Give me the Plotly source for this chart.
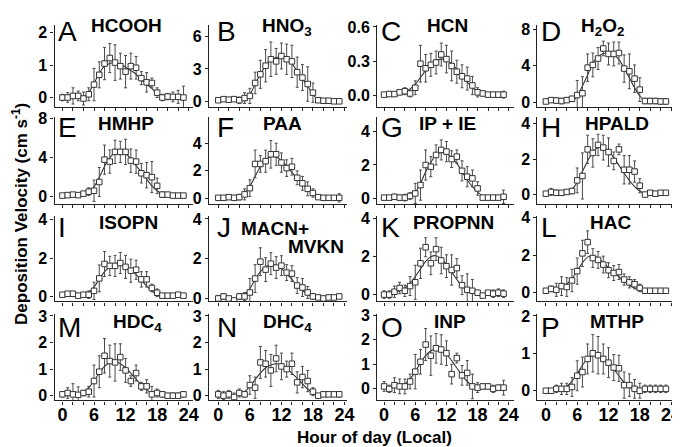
import plotly.graph_objects as go

hours = list(range(24))
x_tickvals = list(range(0, 25, 2))
x_ticktext = [str(v) if v % 6 == 0 else "" for v in x_tickvals]

panel_letters = ["A", "B", "C", "D", "E", "F", "G", "H", "I", "J", "K", "L", "M", "N", "O", "P"]
compound_names = ["HCOOH", "HNO<sub>3</sub>", "HCN", "H<sub>2</sub>O<sub>2</sub>", "HMHP", "PAA", "IP + IE", "HPALD",
                  "ISOPN", "MACN+", "PROPNN", "HAC", "HDC<sub>4</sub>", "DHC<sub>4</sub>", "INP", "MTHP"]

# y tick values per panel
A_yticks = [0, 1, 2]
B_yticks = [0, 3, 6]
C_yticks = [0.0, 0.3, 0.6]
D_yticks = [0, 4, 8]
E_yticks = [0, 4, 8]
F_yticks = [0, 2, 4]
G_yticks = [0, 2, 4]
H_yticks = [0, 2, 4]
I_yticks = [0, 2, 4]
J_yticks = [0, 2, 4]
K_yticks = [0, 2, 4]
L_yticks = [0, 2, 4]
M_yticks = [0, 1, 2, 3]
N_yticks = [0, 1, 2, 3]
O_yticks = [0, 1, 2, 3]
P_yticks = [0, 1, 2]

# ---- hourly means, error bars and fitted curve (fit listed from fit_from hour, 1 h steps)
A_mean = [0.0, 0.0, 0.05, 0.05, -0.03, 0.1, 0.4, 0.7, 1.05, 1.22, 1.08, 0.97, 0.8, 0.97, 0.92, 0.6, 0.47, 0.45, 0.15, 0.0, 0.03, 0.02, 0.02, 0.0]
A_err = [0.1, 0.15, 0.25, 0.15, 0.2, 0.2, 0.5, 0.4, 0.5, 0.45, 0.55, 0.4, 0.5, 0.4, 0.35, 0.2, 0.3, 0.15, 0.15, 0.1, 0.1, 0.15, 0.2, 0.35]
A_fit_from = 4
A_fit = [0.0, 0.15, 0.44, 0.74, 0.97, 1.05, 1.08, 1.03, 0.94, 0.83, 0.72, 0.55, 0.41, 0.28, 0.11, 0.02]

B_mean = [0.1, 0.2, 0.15, 0.2, 0.1, 0.3, 0.5, 1.7, 2.5, 3.3, 3.9, 3.7, 4.2, 3.9, 3.7, 2.7, 2.2, 1.6, 0.8, 0.1, 0.05, 0.05, 0.0, 0.0]
B_err = [0.1, 0.1, 0.1, 0.1, 0.3, 0.5, 0.7, 1.0, 1.3, 1.5, 1.6, 1.2, 1.2, 1.4, 1.5, 1.4, 1.2, 1.6, 0.9, 0.2, 0.1, 0.1, 0.05, 0.05]
B_fit_from = 5
B_fit = [0.0, 0.6, 1.6, 2.5, 3.3, 3.8, 4.05, 4.1, 3.95, 3.5, 2.8, 2.1, 1.4, 0.65, 0.05]

C_mean = [0.01, 0.015, 0.015, 0.03, 0.04, 0.02, 0.07, 0.28, 0.24, 0.27, 0.29, 0.36, 0.32, 0.26, 0.21, 0.17, 0.15, 0.09, 0.03, 0.02, 0.01, 0.01, 0.01, 0.01]
C_err = [0.01, 0.01, 0.01, 0.02, 0.03, 0.03, 0.06, 0.16, 0.12, 0.1, 0.1, 0.1, 0.12, 0.13, 0.1, 0.1, 0.1, 0.08, 0.04, 0.02, 0.01, 0.02, 0.02, 0.03]
C_fit_from = 2
C_fit = [0.01, 0.02, 0.03, 0.06, 0.1, 0.16, 0.22, 0.27, 0.31, 0.32, 0.31, 0.28, 0.23, 0.17, 0.12, 0.07, 0.04, 0.02, 0.01, 0.005]

D_mean = [0.1, 0.25, 0.2, 0.15, 0.25, 0.4, 0.8, 1.0, 3.8, 4.1, 4.8, 5.9, 5.3, 5.3, 5.4, 3.7, 3.4, 2.6, 1.4, 0.15, 0.15, 0.15, 0.1, 0.1]
D_err = [0.1, 0.25, 0.3, 0.3, 0.2, 0.25, 1.6, 1.8, 1.5, 1.3, 1.2, 0.8, 1.2, 1.3, 1.2, 1.5, 1.9, 1.5, 1.3, 0.3, 0.3, 0.3, 0.3, 0.3]
D_fit_from = 5
D_fit = [0.05, 0.7, 1.8, 3.0, 4.3, 5.0, 5.35, 5.4, 5.2, 4.7, 3.75, 2.7, 1.6, 0.7, 0.2, 0.02]

E_mean = [0.1, 0.15, 0.2, 0.15, 0.3, 0.5, 0.6, 1.5, 3.8, 3.6, 4.6, 4.6, 4.6, 3.7, 3.6, 2.4, 2.2, 2.0, 1.1, 0.2, 0.2, 0.1, 0.1, 0.1]
E_err = [0.1, 0.1, 0.15, 0.1, 0.2, 0.4, 1.1, 1.5, 1.5, 1.2, 1.2, 1.1, 1.3, 1.2, 1.2, 1.0, 1.3, 1.6, 0.8, 0.3, 0.2, 0.1, 0.1, 0.1]
E_fit_from = 4
E_fit = [0.05, 0.4, 1.0, 2.0, 3.1, 4.0, 4.5, 4.6, 4.4, 3.9, 3.2, 2.5, 1.8, 1.1, 0.6, 0.25, 0.05]

F_mean = [0.05, 0.05, 0.1, 0.05, 0.1, 0.3, 0.75, 2.5, 2.5, 2.7, 3.2, 3.2, 2.6, 2.2, 2.3, 1.5, 1.1, 0.7, 0.4, 0.1, 0.05, 0.05, 0.05, 0.05]
F_err = [0.05, 0.05, 0.1, 0.1, 0.2, 0.4, 0.6, 1.0, 0.6, 0.8, 1.0, 0.8, 0.7, 0.6, 0.6, 0.5, 0.5, 0.5, 0.3, 0.1, 0.05, 0.05, 0.05, 0.3]
F_fit_from = 3
F_fit = [0.05, 0.15, 0.4, 0.9, 1.6, 2.3, 2.8, 3.05, 3.0, 2.75, 2.35, 1.9, 1.45, 1.05, 0.7, 0.4, 0.2, 0.05]

G_mean = [0.05, 0.05, 0.1, 0.05, 0.05, 0.15, 0.3, 0.8, 2.0, 1.9, 2.6, 2.9, 2.8, 2.35, 2.5, 1.65, 1.3, 1.2, 0.6, 0.05, 0.05, 0.05, 0.05, 0.1]
G_err = [0.05, 0.05, 0.15, 0.15, 0.2, 0.2, 0.6, 0.9, 0.9, 0.6, 0.6, 0.6, 0.6, 0.5, 0.4, 0.6, 0.6, 0.5, 0.4, 0.05, 0.1, 0.05, 0.1, 0.4]
G_fit_from = 5
G_fit = [0.05, 0.35, 0.9, 1.6, 2.15, 2.6, 2.75, 2.7, 2.45, 2.1, 1.6, 1.1, 0.7, 0.38, 0.15, 0.03]

H_mean = [0.05, 0.15, 0.1, 0.1, 0.15, 0.2, 0.8, 1.05, 2.55, 2.35, 2.8, 2.65, 2.4, 1.9, 2.55, 1.4, 1.4, 1.3, 0.5, 0.0, 0.1, 0.05, 0.1, 0.1]
H_err = [0.05, 0.2, 0.15, 0.1, 0.1, 0.15, 0.7, 1.3, 0.8, 0.8, 0.6, 0.7, 0.8, 0.5, 0.3, 0.8, 0.8, 0.6, 0.4, 0.1, 0.1, 0.05, 0.1, 0.1]
H_fit_from = 4
H_fit = [0.1, 0.3, 0.7, 1.3, 1.9, 2.4, 2.65, 2.65, 2.45, 2.1, 1.65, 1.2, 0.8, 0.45, 0.2, 0.05]

I_mean = [0.1, 0.15, 0.15, 0.05, 0.1, 0.1, 0.3, 0.95, 1.7, 1.6, 1.6, 1.75, 1.55, 1.35, 1.4, 0.9, 0.9, 0.45, 0.2, 0.05, 0.05, 0.05, 0.1, 0.05]
I_err = [0.1, 0.1, 0.1, 0.1, 0.1, 0.2, 0.45, 0.7, 0.65, 0.5, 0.55, 0.55, 0.6, 0.6, 0.5, 0.4, 0.4, 0.2, 0.2, 0.1, 0.05, 0.1, 0.1, 0.1]
I_fit_from = 4
I_fit = [0.05, 0.2, 0.5, 0.9, 1.3, 1.55, 1.7, 1.7, 1.6, 1.4, 1.15, 0.85, 0.55, 0.3, 0.1, 0.02]

J_mean = [0.0, 0.1, 0.0, -0.1, 0.1, 0.1, 0.3, 1.0, 1.85, 1.45, 1.75, 1.55, 1.65, 1.3, 1.25, 0.65, 0.55, 0.3, 0.1, 0.05, 0.0, 0.05, 0.05, 0.1]
J_err = [0.15, 0.15, 0.1, 0.1, 0.15, 0.2, 0.7, 0.7, 0.7, 0.6, 0.55, 0.55, 0.5, 0.4, 0.4, 0.4, 0.45, 0.3, 0.15, 0.1, 0.05, 0.05, 0.1, 0.1]
J_fit_from = 4
J_fit = [0.05, 0.2, 0.5, 0.95, 1.35, 1.6, 1.7, 1.65, 1.5, 1.25, 0.95, 0.65, 0.4, 0.2, 0.07, 0.02]

K_mean = [0.0, 0.0, 0.15, 0.35, 0.2, 0.45, 0.65, 1.65, 2.5, 1.65, 2.4, 1.8, 1.5, 1.3, 1.4, 0.5, 0.25, 0.2, 0.1, -0.05, 0.1, 0.05, 0.1, 0.05]
K_err = [0.2, 0.2, 0.3, 0.3, 0.3, 0.5, 0.9, 0.8, 0.5, 0.6, 0.6, 0.7, 0.6, 0.8, 0.5, 0.5, 0.85, 0.6, 0.1, 0.05, 0.1, 0.2, 0.2, 0.2]
K_fit_from = 2
K_fit = [0.1, 0.2, 0.35, 0.6, 0.95, 1.35, 1.75, 2.0, 2.05, 1.9, 1.6, 1.2, 0.8, 0.45, 0.2, 0.08, 0.02]

L_mean = [0.1, 0.2, 0.15, 0.35, 0.3, 0.65, 1.15, 2.1, 2.7, 1.85, 1.75, 1.5, 1.2, 1.05, 1.1, 0.7, 0.55, 0.45, 0.25, 0.1, 0.1, 0.1, 0.1, 0.1]
L_err = [0.1, 0.15, 0.35, 0.5, 0.5, 0.6, 0.7, 0.7, 0.6, 0.5, 0.45, 0.45, 0.4, 0.4, 0.4, 0.3, 0.3, 0.25, 0.2, 0.1, 0.05, 0.05, 0.1, 0.1]
L_fit_from = 1
L_fit = [0.1, 0.15, 0.25, 0.45, 0.75, 1.15, 1.6, 1.9, 1.95, 1.85, 1.6, 1.35, 1.1, 0.85, 0.6, 0.4, 0.25, 0.12, 0.05, 0.02]

M_mean = [0.05, 0.1, 0.05, 0.03, 0.1, 0.15, 0.55, 0.9, 1.5, 1.3, 1.25, 1.45, 0.95, 0.55, 0.85, 0.35, 0.35, 0.05, 0.1, 0.05, 0.0, 0.0, 0.0, 0.05]
M_err = [0.1, 0.2, 0.4, 0.3, 0.1, 0.2, 0.6, 0.6, 0.65, 0.6, 0.7, 0.5, 0.45, 0.2, 0.3, 0.15, 0.25, 0.3, 0.15, 0.1, 0.05, 0.1, 0.1, 0.1]
M_fit_from = 3
M_fit = [0.03, 0.12, 0.3, 0.55, 0.85, 1.1, 1.25, 1.3, 1.2, 1.05, 0.85, 0.62, 0.4, 0.22, 0.1, 0.03]

N_mean = [0.05, 0.0, 0.05, -0.05, 0.1, 0.05, 0.4, 0.3, 1.25, 1.2, 0.95, 1.4, 1.1, 1.0, 1.2, 0.5, 0.7, 0.55, 0.15, 0.0, 0.05, 0.05, 0.05, 0.05]
N_err = [0.15, 0.15, 0.15, 0.15, 0.15, 0.1, 0.35, 0.4, 0.6, 0.5, 0.6, 0.5, 0.5, 0.3, 0.4, 0.4, 0.4, 0.4, 0.15, 0.05, 0.05, 0.05, 0.05, 0.1]
N_fit_from = 4
N_fit = [0.05, 0.15, 0.35, 0.6, 0.85, 1.05, 1.15, 1.2, 1.15, 1.0, 0.85, 0.65, 0.45, 0.25, 0.1, 0.02]

O_mean = [0.1, 0.0, 0.15, 0.1, 0.1, 0.3, 0.7, 1.1, 1.8, 1.35, 1.65, 1.6, 1.45, 0.6, 1.25, 0.55, 0.65, 0.1, 0.05, 0.1, 0.1, 0.0, 0.05, 0.05]
O_err = [0.2, 0.15, 0.3, 0.3, 0.3, 0.3, 0.7, 0.5, 0.65, 0.8, 0.6, 0.6, 0.5, 0.4, 0.2, 0.4, 0.5, 0.5, 0.2, 0.1, 0.1, 0.15, 0.1, 0.3]
O_fit_from = 3
O_fit = [0.08, 0.2, 0.4, 0.7, 1.05, 1.35, 1.55, 1.6, 1.55, 1.4, 1.15, 0.85, 0.55, 0.3, 0.12, 0.04]

P_mean = [0.0, 0.0, 0.05, 0.05, 0.05, 0.1, 0.4, 0.5, 0.85, 1.0, 0.95, 0.85, 0.75, 0.62, 0.6, 0.15, 0.15, 0.05, 0.0, 0.05, 0.05, 0.05, 0.05, 0.05]
P_err = [0.05, 0.05, 0.1, 0.15, 0.15, 0.25, 0.4, 0.4, 0.4, 0.5, 0.5, 0.4, 0.4, 0.35, 0.35, 0.35, 0.3, 0.25, 0.2, 0.1, 0.1, 0.1, 0.1, 0.1]
P_fit_from = 3
P_fit = [0.05, 0.12, 0.25, 0.45, 0.68, 0.85, 0.95, 0.95, 0.88, 0.75, 0.58, 0.4, 0.22, 0.1, 0.03]

means = [A_mean, B_mean, C_mean, D_mean, E_mean, F_mean, G_mean, H_mean,
         I_mean, J_mean, K_mean, L_mean, M_mean, N_mean, O_mean, P_mean]
errs = [A_err, B_err, C_err, D_err, E_err, F_err, G_err, H_err,
        I_err, J_err, K_err, L_err, M_err, N_err, O_err, P_err]
fits = [A_fit, B_fit, C_fit, D_fit, E_fit, F_fit, G_fit, H_fit,
        I_fit, J_fit, K_fit, L_fit, M_fit, N_fit, O_fit, P_fit]
fit_froms = [A_fit_from, B_fit_from, C_fit_from, D_fit_from, E_fit_from, F_fit_from, G_fit_from, H_fit_from,
             I_fit_from, J_fit_from, K_fit_from, L_fit_from, M_fit_from, N_fit_from, O_fit_from, P_fit_from]
yticks = [A_yticks, B_yticks, C_yticks, D_yticks, E_yticks, F_yticks, G_yticks, H_yticks,
          I_yticks, J_yticks, K_yticks, L_yticks, M_yticks, N_yticks, O_yticks, P_yticks]

# ---------------- layout (pixel geometry) ----------------
W, H = 680, 447
FONT = "Liberation Sans"
col_px = [(47, 187), (203, 343), (373, 511), (535, 673)]
col_zero_24 = [(55, 182.6), (212.5, 340), (380, 506), (543.5, 670)]
row_px = [(10, 95), (105, 195), (207, 295), (308, 397)]
y_ranges = [(-0.3, 2.25), (-0.55, 7.1), (-0.1, 0.62), (-0.53, 8.5),
            (-0.8, 8.2), (-0.42, 5.9), (-0.35, 4.87), (-0.55, 4.38),
            (-0.25, 4.2), (-0.15, 4.15), (-0.36, 4.15), (-0.47, 4.1),
            (-0.18, 3.07), (-0.18, 3.07), (-0.47, 3.04), (-0.26, 2.05)]

fig = go.Figure()
layout = {}
annotations = []

letter_x = [49, 209, 375, 537]
letter_y = [17, 116, 219, 322]
name_pos = [(120, 11), (282, 12), (444, 11), (601, 12),
            (119, 112), (277, 112), (444, 112), (615, 112),
            (122, 214), (270, 220), (450, 214), (609, 214),
            (131, 317), (282, 317), (447, 316), (615, 316)]

for i in range(16):
    r, c = divmod(i, 4)
    n = i + 1
    xa = "x" if n == 1 else f"x{n}"
    ya = "y" if n == 1 else f"y{n}"
    fr = fit_froms[i]
    fit_hours = list(range(fr, fr + len(fits[i])))
    fig.add_trace(go.Scatter(x=fit_hours, y=fits[i], mode="lines", xaxis=xa, yaxis=ya,
                             line=dict(color="#333333", width=1.1, shape="spline"),
                             showlegend=False, hoverinfo="skip"))
    fig.add_trace(go.Scatter(x=hours, y=means[i], mode="markers", xaxis=xa, yaxis=ya,
                             marker=dict(symbol="square", size=5.5, color="white",
                                         line=dict(color="#333333", width=1)),
                             error_y=dict(type="data", array=errs[i], visible=True,
                                          color="#4a4a4a", thickness=1, width=1.5),
                             showlegend=False))
    L, R = col_px[c]
    p0, p24 = col_zero_24[c]
    s = (p24 - p0) / 24.0
    xr = [(L - p0) / s, (R - p0) / s]
    T, B = row_px[r]
    xkey = "xaxis" if n == 1 else f"xaxis{n}"
    ykey = "yaxis" if n == 1 else f"yaxis{n}"
    layout[xkey] = dict(domain=[L / W, R / W], range=xr, anchor=ya,
                        tickvals=x_tickvals, ticktext=x_ticktext, tickangle=0,
                        showticklabels=(r == 3), ticklabelstandoff=-5,
                        ticks="outside", ticklen=3, tickwidth=1, tickcolor="#222",
                        showline=True, linecolor="#222", linewidth=1.2,
                        showgrid=False, zeroline=False,
                        tickfont=dict(family=FONT, size=18, color="black", weight="bold"))
    yt = yticks[i]
    ytext = [f"{v:.1f}" for v in yt] if i == 2 else [str(v) for v in yt]
    layout[ykey] = dict(domain=[1 - B / H, 1 - T / H], range=list(y_ranges[i]), anchor=xa,
                        tickvals=yt, ticktext=ytext,
                        ticks="outside", ticklen=3, tickwidth=1, tickcolor="#222",
                        showline=True, linecolor="#222", linewidth=1.2,
                        showgrid=False, zeroline=False,
                        tickfont=dict(family=FONT, size=16, color="black", weight="bold"))
    annotations.append(dict(text=panel_letters[i], xref="paper", yref="paper",
                            x=letter_x[c] / W, y=1 - letter_y[r] / H, xanchor="left", yanchor="middle",
                            showarrow=False, font=dict(family=FONT, size=28, color="black")))
    nx, ny = name_pos[i]
    annotations.append(dict(text=compound_names[i], xref="paper", yref="paper",
                            x=nx / W, y=1 - ny / H, xanchor="center", yanchor="middle",
                            showarrow=False, font=dict(family=FONT, size=19, color="black", weight="bold")))

# second line of panel J label
annotations.append(dict(text="MVKN", xref="paper", yref="paper", x=311 / W, y=1 - 238 / H,
                        xanchor="center", yanchor="middle", showarrow=False,
                        font=dict(family=FONT, size=19, color="black", weight="bold")))
# axis titles
annotations.append(dict(text="Hour of day (Local)", xref="paper", yref="paper", x=370 / W, y=1 - 435 / H,
                        xanchor="center", yanchor="middle", showarrow=False,
                        font=dict(family=FONT, size=17, color="black", weight="bold")))
annotations.append(dict(text="Deposition Velocity (cm s<sup>-1</sup>)", xref="paper", yref="paper",
                        x=12 / W, y=1 - 205 / H, xanchor="center", yanchor="middle", textangle=-90,
                        showarrow=False, font=dict(family=FONT, size=17, color="black", weight="bold")))

fig.update_layout(width=W, height=H, margin=dict(l=0, r=0, t=0, b=0),
                  paper_bgcolor="white", plot_bgcolor="white",
                  annotations=annotations, **layout)

fig.write_html("out.html")
